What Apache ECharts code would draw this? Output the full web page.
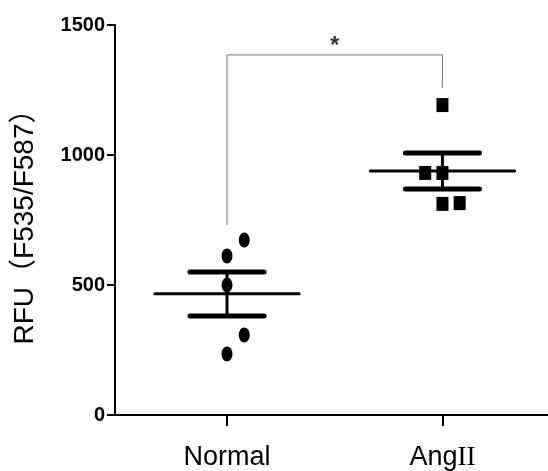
<!DOCTYPE html>
<html>
<head>
<meta charset="utf-8">
<script src="https://cdn.jsdelivr.net/npm/echarts@6/dist/echarts.min.js"></script>
<style>
html,body{margin:0;padding:0;background:#fff;}
#main{width:548px;height:471px;}
</style>
</head>
<body>
<div id="main"></div>
<script>
// 分组
var groupNames = ['Normal', 'AngII'];
var groupPos = [1, 2];
// 各组数据点 [x, y]
var normalPoints = [[1.08, 673], [1, 612], [1, 500], [1.08, 308], [1, 235]];
var angPoints = [[1, 1192], [0.92, 931], [1, 931], [1, 812], [1.08, 815]];
for (var i = 0; i < angPoints.length; i++) { angPoints[i][0] += 1; }
// 均值与 SEM [x, mean, low, high]
var meanSem = [[1, 466, 381, 550], [2, 938, 869, 1008]];
// 显著性标记线
var bracket = [[1, 731], [1, 1385], [2, 1385], [2, 1258]];
var yTicks = [0, 500, 1000, 1500];

var myChart = echarts.init(document.getElementById('main'));

var option = {
    animation: false,
    grid: {
        left: 115,
        right: 0,
        top: 25,
        bottom: 56
    },
    xAxis: {
        type: 'value',
        min: 0.48,
        max: 2.49,
        splitLine: {show: false},
        axisLine: {lineStyle: {color: '#000', width: 2}},
        axisTick: {
            show: true,
            length: 11,
            inside: false,
            customValues: groupPos,
            lineStyle: {color: '#000', width: 2}
        },
        axisLabel: {
            customValues: groupPos,
            margin: 29,
            color: '#000',
            formatter: function (v) {
                if (v === 2) return '{a|Ang}{b|II}';
                return '{a|' + groupNames[0] + '}';
            },
            rich: {
                a: {fontSize: 27, fontFamily: 'Liberation Sans', color: '#000'},
                b: {fontSize: 27, fontFamily: 'Liberation Serif', color: '#000'}
            }
        }
    },
    yAxis: {
        type: 'value',
        min: yTicks[0],
        max: yTicks[yTicks.length - 1],
        interval: 500,
        splitLine: {show: false},
        axisLine: {show: true, lineStyle: {color: '#000', width: 2}},
        axisTick: {show: true, length: 8, lineStyle: {color: '#000', width: 2}},
        axisLabel: {
            margin: 10,
            fontSize: 20,
            fontWeight: 'bold',
            color: '#000',
            fontFamily: 'Liberation Sans',
            formatter: function (v) { return String(v); }
        },
        name: 'RFU（F535/F587）',
        nameLocation: 'middle',
        nameGap: 76,
        nameTextStyle: {
            fontSize: 28,
            color: '#000',
            fontFamily: 'Liberation Sans, Noto Sans CJK SC'
        }
    },
    series: [
        {
            type: 'line',
            data: bracket,
            symbol: 'none',
            lineStyle: {color: '#777', width: 1},
            silent: true,
            z: 1
        },
        {
            type: 'scatter',
            data: [[1.5, 1385]],
            symbolSize: 0,
            label: {
                show: true,
                formatter: '*',
                position: 'top',
                distance: -3,
                fontSize: 24,
                fontWeight: 'bold',
                color: '#000',
                fontFamily: 'Liberation Sans'
            },
            silent: true
        },
        {
            type: 'scatter',
            data: normalPoints,
            symbol: 'circle',
            symbolSize: [11, 15],
            itemStyle: {color: '#000', opacity: 1},
            z: 3
        },
        {
            type: 'scatter',
            data: angPoints,
            symbol: 'rect',
            symbolSize: [12, 14],
            itemStyle: {color: '#000', opacity: 1},
            z: 3
        },
        {
            type: 'custom',
            data: meanSem,
            z: 4,
            renderItem: function (params, api) {
                var x = api.value(0);
                var m = api.coord([x, api.value(1)]);
                var lo = api.coord([x, api.value(2)]);
                var hi = api.coord([x, api.value(3)]);
                var mL = api.coord([x - 0.335, api.value(1)]);
                var mR = api.coord([x + 0.335, api.value(1)]);
                var cw = api.size([0.172, 0])[0];
                return {
                    type: 'group',
                    children: [
                        {type: 'line', shape: {x1: lo[0], y1: lo[1], x2: hi[0], y2: hi[1]}, style: {stroke: '#000', lineWidth: 3}},
                        {type: 'line', shape: {x1: mL[0], y1: m[1], x2: mR[0], y2: m[1]}, style: {stroke: '#000', lineWidth: 3, lineCap: 'round'}},
                        {type: 'line', shape: {x1: hi[0] - cw, y1: hi[1], x2: hi[0] + cw, y2: hi[1]}, style: {stroke: '#000', lineWidth: 5, lineCap: 'round'}},
                        {type: 'line', shape: {x1: lo[0] - cw, y1: lo[1], x2: lo[0] + cw, y2: lo[1]}, style: {stroke: '#000', lineWidth: 5, lineCap: 'round'}}
                    ]
                };
            }
        }
    ]
};
myChart.setOption(option, true);
</script>
</body>
</html>
